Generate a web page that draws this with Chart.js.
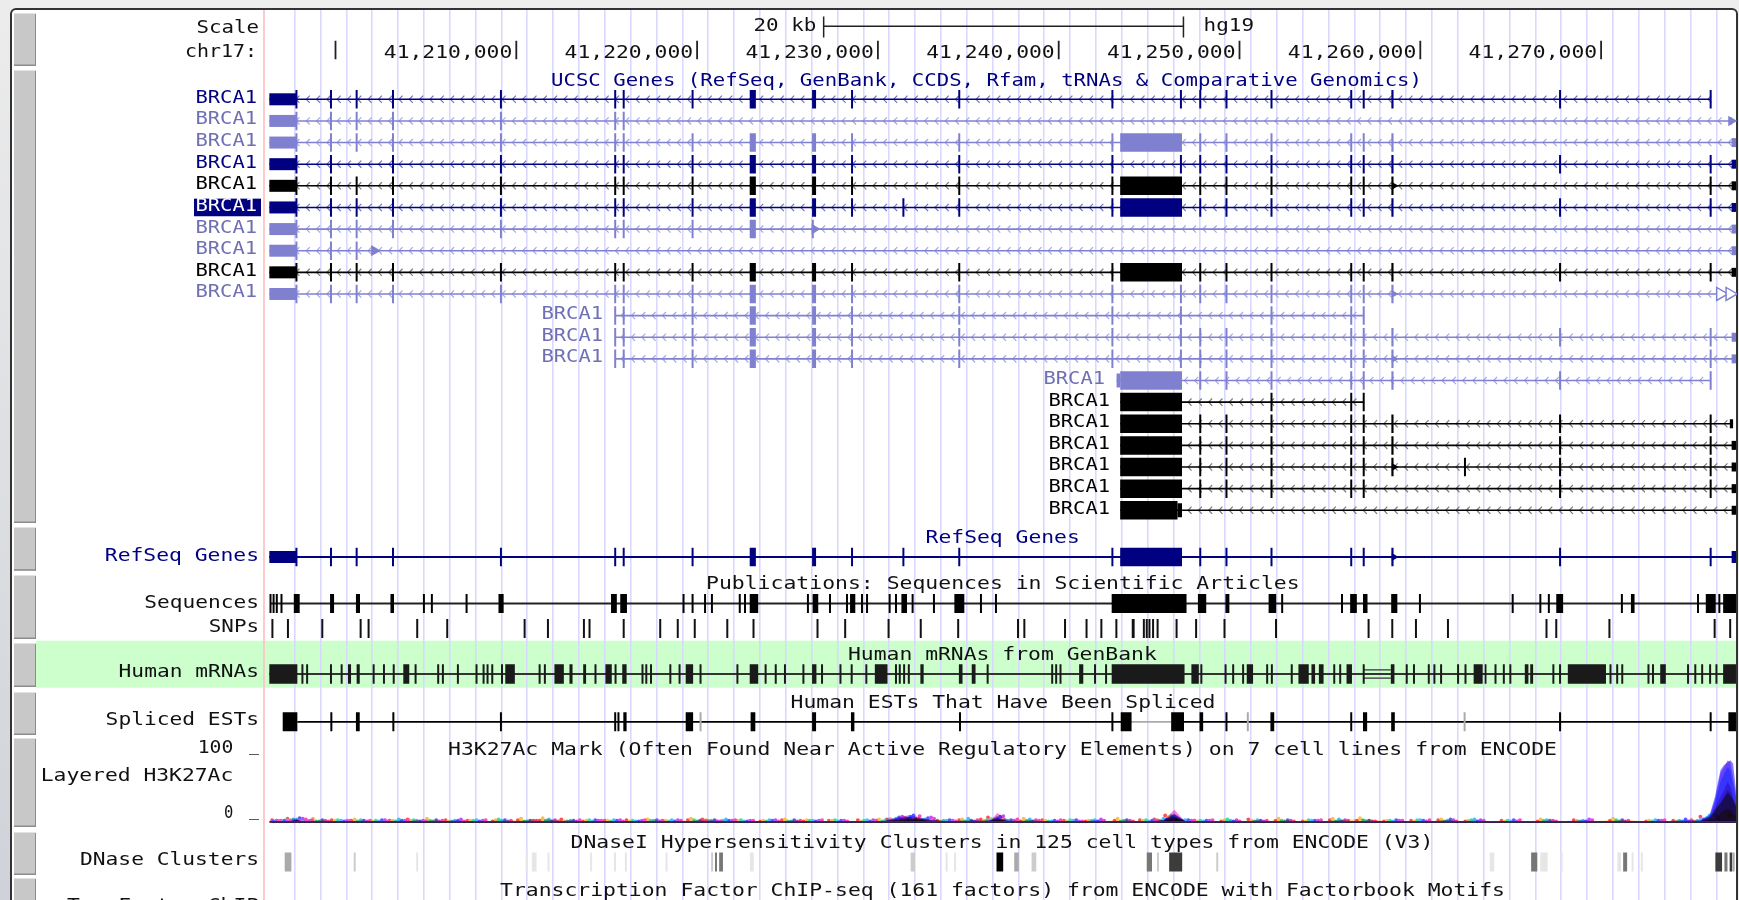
<!DOCTYPE html>
<html><head><meta charset="utf-8">
<style>html,body{margin:0;padding:0;background:#eee;overflow:hidden}canvas{display:block;filter:blur(0.45px)}</style>
<script src="https://cdn.jsdelivr.net/npm/chart.js@4"></script>
</head><body><canvas id="c" width="1739" height="900"></canvas>
<script>
// All x values: kb offset from chr17:41,200,000
const rulerTicks=[0,10,20,30,40,50,60,70];
const rulerLabels=['','41,210,000','41,220,000','41,230,000','41,240,000','41,250,000','41,260,000','41,270,000'];
const scaleBar=[27.0,46.9];
const leftT=[-2.16,-0.25,1.17,3.18,9.15];
const midT=[15.47,15.94,19.75,[22.91,23.25],[26.36,26.58],28.57,34.50,42.97];
const codingBlock=[[43.40,46.82]];
const rightT=[47.83,49.28,51.77,56.18,56.87,[58.40,58.52]];
const lateT=[67.73,76.06];
const leftUtr=[[-3.66,-2.16]];
const endUtr=[[77.22,77.46]];

const geneNames=['BRCA1','BRCA1','BRCA1','BRCA1','BRCA1','BRCA1','BRCA1','BRCA1','BRCA1','BRCA1','BRCA1','BRCA1','BRCA1','BRCA1','BRCA1','BRCA1','BRCA1','BRCA1','BRCA1','BRCA1'];
const geneShade=['n','l','l','n','k','n','l','l','k','l','l','l','l','l','k','k','k','k','k','k'];
const geneStart=[-3.66,-3.66,-3.66,-3.66,-3.66,-3.66,-3.66,-3.66,-3.66,-3.66,15.47,15.47,15.47,43.2,43.4,43.4,43.4,43.4,43.4,43.4];
const geneEnd=[76.06,77.3,77.46,77.46,77.46,77.46,77.46,77.46,77.46,77.2,56.87,77.46,77.46,76.06,56.87,77.3,77.46,77.46,77.46,77.46];
const geneExons=[
 [...leftT,...midT,46.76,...rightT,...lateT],
 [...leftT,15.47,15.94],
 [...leftT,...midT,...codingBlock,...rightT],
 [-2.16,-0.25,3.18,9.15,...midT,46.76,...rightT,...lateT],
 [...leftT,...midT,...codingBlock,...rightT,76.06],
 [...leftT,...midT,31.41,...codingBlock,...rightT,...lateT],
 [...leftT,15.47,15.94,19.75,[22.91,23.25],26.4],
 [-2.16,-0.25,1.17],
 [...leftT,...midT,...codingBlock,...rightT,...lateT],
 [...leftT,...midT,46.76,...rightT],
 [...midT,46.76,51.77,56.18,56.87],
 [...midT,46.76,...rightT,...lateT],
 [...midT,46.76,...rightT,76.06],
 [...codingBlock,...rightT,...lateT],
 [...codingBlock,51.77,56.18,56.87],
 [...codingBlock,...rightT,...lateT],
 [...codingBlock,...rightT,...lateT],
 [...codingBlock,...rightT,62.47,...lateT],
 [...codingBlock,47.83,49.28,51.77,56.18,56.87,...lateT],
 [[43.40,46.57]]
];
const geneUtrLeft=[leftUtr,leftUtr,leftUtr,leftUtr,leftUtr,leftUtr,leftUtr,leftUtr,leftUtr,leftUtr,[],[],[],[[43.2,43.4]],[],[],[],[],[],[[46.57,46.82]]];
const geneUtrEnd=[[],[],endUtr,endUtr,endUtr,endUtr,endUtr,endUtr,endUtr,[],[],endUtr,endUtr,[],[],[[77.12,77.3]],endUtr,endUtr,endUtr,endUtr];
const refSeqExons=[...leftT,...midT,31.41,...codingBlock,...rightT,...lateT];
const geneArrows=[[1,77.2,6],[6,26.5,6],[7,2.15,6.5],[4,58.55,4.5],[9,58.55,4.5],[12,58.55,4.5],[17,58.55,4.5]];
const geneOpenArrows=[[9,76.6,7.5],[9,77.12,7.5]];

const seqMarks=[-3.595,-3.424,-3.247,-2.987,[-2.306,-1.98],[-0.30,-0.08],[1.13,1.355],[3.04,3.235],4.89,5.33,7.25,[9.015,9.30],[15.24,15.56],[15.75,16.12],19.25,19.75,20.44,20.82,22.36,22.65,[22.91,23.38],26.13,[26.39,26.70],27.35,28.29,[28.46,28.75],29.12,29.40,30.65,31.00,[31.30,31.61],31.92,33.10,[34.23,34.78],35.70,36.53,[42.93,47.07],[47.70,48.16],[49.22,49.44],[51.61,52.03],52.36,55.67,[56.12,56.49],[56.83,57.08],[58.39,58.73],59.98,65.11,66.64,67.11,[67.52,67.90],71.15,[71.65,71.85],75.36,[75.79,76.34],76.54,[76.75,77.46]];
const snpMarks=[-3.49,-2.63,-0.73,1.39,1.83,4.52,6.18,10.46,11.75,13.74,14.05,15.94,17.96,18.93,19.87,21.67,23.12,26.66,28.19,30.59,32.37,34.44,37.75,38.10,40.35,41.54,42.36,43.19,[44.04,44.2],44.71,44.87,45.02,45.22,45.47,46.52,47.60,49.17,52.02,57.14,58.45,59.76,61.53,66.98,67.52,70.46,76.28,77.14];
const mrnaMarks=[[-3.66,-2.11],-1.83,-1.57,-0.25,0.34,[0.69,0.86],[1.17,1.34],2.11,2.68,3.22,[3.75,4.08],4.43,5.68,5.94,6.77,7.80,8.19,8.41,8.67,9.21,[9.39,9.92],11.29,11.58,[12.11,12.63],[12.94,13.11],[13.70,13.86],14.38,[14.93,15.28],15.49,[15.86,16.10],16.98,17.19,17.45,18.52,19.03,[19.37,19.78],20.19,22.23,[22.91,23.38],23.79,24.35,24.86,25.88,[26.36,26.60],26.91,27.93,28.55,29.36,[29.83,30.53],31.0,31.21,31.45,31.71,[32.35,32.53],[34.48,34.68],[35.19,35.40],36.07,39.64,39.86,40.10,[41.13,41.36],42.01,42.62,[42.93,46.96],[47.34,47.75],47.89,49.23,49.65,50.20,[50.40,50.75],51.53,51.79,52.89,[53.26,53.83],[53.98,54.18],[54.39,54.65],55.24,55.57,[55.92,56.22],56.87,[58.37,58.57],59.25,59.65,60.47,60.78,61.15,62.09,62.50,[62.95,63.45],[63.56,63.66],64.16,64.62,64.98,[65.78,65.98],[66.08,66.24],67.36,67.73,[68.16,70.27],70.52,70.89,71.17,72.62,72.87,[73.27,73.58],74.81,75.21,75.59,76.03,76.38,[76.75,77.46]];
const mrnaDouble=[56.87,58.37];
const estMarks=[[-2.92,-2.11],-0.23,[1.13,1.34],3.20,9.15,15.47,15.65,[15.92,16.10],[19.37,19.78],[22.96,23.22],[26.36,26.58],[28.51,28.70],34.54,42.97,[43.43,44.03],[46.22,46.93],[47.79,47.99],49.28,[51.71,51.92],56.18,[56.83,57.06],[58.39,58.59],67.73,76.06,[77.04,77.46]];
const estGrey=[20.19,50.46,62.45];
const estLines=[[-2.11,44.03],[46.93,77.46]];
const estGreyLine=[44.03,46.22];

const dnaseBlack=[[36.56,36.93]];
const dnaseDark=[[46.11,46.83],[76.32,76.69],[77.11,77.25]];
const dnaseMid=[[20.99,21.10],[21.22,21.43],[44.87,45.16],[66.13,66.47],[71.22,71.44],[76.82,76.99]];
const dnaseSoft=[[-2.81,-2.44],[37.54,37.79],77.33];
const dnaseLight=[1.06,20.83,[31.81,32.05],[38.50,38.76],45.49,48.77];
const dnasePale=[4.52,10.57,[10.86,11.12],11.78,14.14,15.46,16.06,18.31,[22.92,23.13],33.80,34.27,[63.84,64.09],[66.64,67.04],67.82,[70.90,71.10],71.74,72.25];

const h3kPos=[-3.6,-3.0,-2.5,-2.15,-1.8,-0.9,0.3,1.4,2.4,3.5,4.5,5.4,6.6,7.8,9.2,10.6,11.8,13.0,14.2,15.4,16.6,17.6,18.6,20.0,20.8,21.6,22.6,24.0,25.2,26.4,27.8,29.4,30.4,31.0,31.8,32.6,33.8,35.0,36.2,36.6,37.2,38.4,39.6,40.8,42.0,43.6,45.0,45.8,46.4,47.0,48.0,49.5,51.0,52.5,54.0,55.5,57.0,58.5,60.0,61.5,63.0,65.0,67.0,69.0,71.0,73.0,74.5,75.5,76.0,76.3,76.6,76.8,77.0,77.15,77.3,77.46];
const h3kGM12878=[1,3,2,5,1,2,3,2,1,2,4,1,3,2,1,3,2,4,1,2,3,1,2,3,4,1,2,1,3,1,2,3,2,4,6,5,2,3,4,7,2,1,3,2,1,2,3,4,10,3,2,1,4,2,1,3,2,1,2,3,1,2,1,3,2,1,2,3,8,20,30,38,45,42,35,25];
const h3kH1=[2,1,1,3,2,5,2,4,1,2,2,5,1,2,3,5,6,1,2,2,1,4,2,5,3,1,2,2,4,3,2,1,4,5,7,4,1,4,2,5,3,5,2,1,2,5,2,3,7,2,1,3,2,5,1,5,6,2,1,4,2,1,4,2,5,2,1,1,3,8,15,20,22,20,15,10];
const h3kHSMM=[1,2,3,4,1,1,3,1,2,1,3,2,1,2,4,1,2,1,3,1,2,2,1,3,2,2,3,1,1,2,3,2,1,3,5,3,2,1,3,4,3,2,1,3,2,1,3,2,9,2,2,4,1,2,3,1,3,2,3,1,3,2,2,1,3,1,2,2,6,18,30,40,50,45,35,25];
const h3kHUVEC=[2,1,2,4,2,1,2,3,1,4,2,1,2,3,2,1,4,2,1,3,1,2,3,1,2,4,1,3,1,2,1,3,2,5,8,4,2,5,3,6,2,4,1,2,3,2,1,5,12,3,1,2,3,1,2,4,1,1,3,2,4,1,3,2,1,3,1,3,10,30,62,75,85,80,60,40];
const h3kK562=[1,2,3,6,2,3,1,2,3,2,1,3,2,1,3,2,1,2,3,2,1,3,1,2,3,2,1,2,3,1,2,1,3,7,10,6,3,2,2,8,3,1,2,3,1,3,2,4,14,3,2,1,2,3,2,1,2,3,2,4,1,3,2,1,3,2,4,4,12,40,80,88,92,95,90,50];
const h3kNHEK=[2,1,2,5,1,2,2,1,3,2,2,1,4,2,1,2,3,1,2,3,2,1,3,2,1,2,2,3,1,2,2,3,3,8,12,7,2,1,4,9,2,3,1,1,4,2,3,3,13,2,2,3,1,2,2,3,1,2,1,3,3,1,2,4,1,2,1,3,10,35,75,85,95,92,70,40];
const h3kNHLF=[1,2,1,4,3,1,2,2,1,3,1,2,1,3,2,2,1,3,2,1,3,1,2,2,1,3,2,1,2,3,1,2,2,6,9,5,1,3,2,15,4,2,3,1,2,1,2,4,20,2,3,1,2,1,3,2,1,2,3,1,2,3,1,3,2,3,2,2,6,22,40,50,62,55,40,28];
const h3kSeries=[[h3kGM12878,'rgb(255,128,128)','rgb(255,80,80)',-0.51],[h3kH1,'rgb(255,212,128)','rgb(255,190,70)',-0.34],[h3kHSMM,'rgb(120,235,204)','rgb(60,220,180)',-0.17],[h3kHUVEC,'rgb(128,212,255)','rgb(70,190,255)',0],[h3kK562,'rgb(128,128,255)','rgb(90,90,255)',0.17],[h3kNHEK,'rgb(212,128,255)','rgb(190,80,255)',0.34],[h3kNHLF,'rgb(255,128,212)','rgb(255,70,190)',0.51]];
const h3kBaseline=[-3.66,77.46];

// layout: row numbering on the y scale
const pxPerKb=18.08, tickPx0=335.5, rowPx0=99.3, rowPx=21.63;
const AREA={l:264,r:1737,t:10,b:900};
const pxToRow=p=>(p-rowPx0)/rowPx;
const ROW={refseq:21.16,seq:23.31,snp:24.47,mrna:26.57,est:28.78,dnase:35.26};
const SH={n:{c:'#000080',t:'#000080',chev:'#7474b6'},l:{c:'#8080d0',t:'#6f6fb4',chev:'#a8a8e4'},k:{c:'#000000',t:'#000000',chev:'#7c7c7c'}};

function segs(list,row,half=0.055){
  const out=[];
  list.forEach(v=>{const a=Array.isArray(v)?v[0]:v-half,b=Array.isArray(v)?v[1]:v+half;
    out.push({x:a,y:row},{x:b,y:row},{x:NaN,y:NaN});});
  return out;
}
const datasets=[];
function addLine(data,color,width,extra){
  datasets.push(Object.assign({type:'line',data,borderColor:color,backgroundColor:color,borderWidth:width,pointRadius:0,borderCapStyle:'butt',tension:0,fill:false,spanGaps:false,xAxisID:'x',yAxisID:'y',order:-datasets.length},extra||{}));
}
function addPts(data,color,radius,open){
  datasets.push({type:'line',showLine:false,data,borderColor:color,backgroundColor:open?'#fff':color,borderWidth:open?1.5:0,pointStyle:'triangle',pointRotation:90,pointRadius:radius,xAxisID:'x',yAxisID:'y',order:-datasets.length});
}
// ruler + scale bar
const rulerRows=[pxToRow(40.7),pxToRow(59.3)];
const rulerData=[];rulerTicks.forEach(t=>{rulerData.push({x:t,y:rulerRows[0]},{x:t,y:rulerRows[1]},{x:NaN,y:NaN});});
addLine(rulerData,'#222',1.8);
const barRow=pxToRow(26.3),capA=pxToRow(16.5),capB=pxToRow(37.5);
addLine([{x:scaleBar[0],y:barRow},{x:scaleBar[1],y:barRow}],'#222',1.5);
addLine([{x:scaleBar[0],y:capA},{x:scaleBar[0],y:capB},{x:NaN,y:NaN},{x:scaleBar[1],y:capA},{x:scaleBar[1],y:capB}],'#222',1.5);
// genes
geneNames.forEach((n,r)=>{
  const c=SH[geneShade[r]].c;
  addLine([{x:geneStart[r],y:r},{x:geneEnd[r],y:r}],c,1.6);
  addLine(segs(geneUtrLeft[r],r),c,r==19||r==13?14:12);
  addLine(segs(geneUtrEnd[r],r),c,9);
  addLine(segs(geneExons[r],r),c,18.5);
});
geneArrows.forEach(a=>addPts([{x:a[1],y:a[0]}],SH[geneShade[a[0]]].c,a[2]));
geneOpenArrows.forEach(a=>addPts([{x:a[1],y:a[0]}],SH[geneShade[a[0]]].c,a[2],true));
// RefSeq
addLine([{x:-3.66,y:ROW.refseq},{x:77.46,y:ROW.refseq}],'#000080',2);
addLine(segs(leftUtr,ROW.refseq),'#000080',12);
addLine(segs(endUtr,ROW.refseq),'#000080',12);
addLine(segs(refSeqExons,ROW.refseq),'#000080',18.5);
addPts([{x:58.55,y:ROW.refseq}],'#000080',4.5);
// Publications
addLine([{x:-3.6,y:ROW.seq},{x:77.46,y:ROW.seq}],'#222',1.8);
addLine(segs(seqMarks,ROW.seq),'#000',19);
addLine(segs(snpMarks,ROW.snp),'#111',19);
// mRNAs
addLine([{x:-3.66,y:ROW.mrna},{x:77.46,y:ROW.mrna}],'#333',1.8);
addLine([{x:mrnaDouble[0],y:ROW.mrna-0.19},{x:mrnaDouble[1],y:ROW.mrna-0.19},{x:NaN,y:NaN},{x:mrnaDouble[0],y:ROW.mrna+0.19},{x:mrnaDouble[1],y:ROW.mrna+0.19}],'#333',1.3);
addLine(segs(mrnaMarks,ROW.mrna),'#1a1a1a',19.5);
// ESTs
addLine(segs(estLines,ROW.est),'#000',1.7);
addLine(segs([estGreyLine],ROW.est),'#aaa',1.7);
addLine(segs(estGrey,ROW.est),'#aaa',19);
addLine(segs(estMarks,ROW.est),'#000',19);
// H3K27Ac: layered series on their own 0-100 axis
h3kSeries.forEach(s=>{
  const dots=h3kPos.map((p,i)=>({x:p+s[3],y:s[0][i]+1.5})).filter(d=>d.y<13&&d.x>-3.6);
  datasets.push({type:'line',showLine:false,data:dots,pointBackgroundColor:s[2],pointBorderWidth:0,pointRadius:1.9,xAxisID:'x',yAxisID:'h3k',order:-datasets.length});
});
h3kSeries.forEach(s=>{
  datasets.push({type:'line',data:h3kPos.map((p,i)=>({x:p,y:s[0][i]})),borderWidth:0,borderColor:s[1],backgroundColor:s[1],pointRadius:0,tension:0,fill:'origin',xAxisID:'x',yAxisID:'h3k',multiply:true,order:-datasets.length});
});
addLine([{x:h3kBaseline[0],y:1.6},{x:h3kBaseline[1],y:1.6}],'#3a2c58',1.8,{yAxisID:'h3k'});
// DNase
addLine(segs(dnasePale,ROW.dnase),'#e6e6e6',19);
addLine(segs(dnaseLight,ROW.dnase),'#cccccc',19);
addLine(segs(dnaseSoft,ROW.dnase),'#aaaaaa',19);
addLine(segs(dnaseMid,ROW.dnase),'#777777',19);
addLine(segs(dnaseDark,ROW.dnase),'#3c3c3c',19);
addLine(segs(dnaseBlack,ROW.dnase),'#000000',19);

const FONT='17px "DejaVu Sans Mono"';
const NAVY='#000080', INK='#111';
const fixedTexts=[
 ['Scale',196.5,259,29,INK],['chr17:',185,257,53,INK],['20 kb',753.5,816.4,27,INK],['hg19',1203.6,1254,27,INK],
 ['UCSC Genes (RefSeq, GenBank, CCDS, Rfam, tRNAs & Comparative Genomics)',551,1422,82,NAVY],
 ['RefSeq Genes',925.6,1079.8,539,NAVY],['RefSeq Genes',104.8,259,557,NAVY],
 ['Publications: Sequences in Scientific Articles',706,1299.6,584.7,INK],
 ['Sequences',144.3,259,604,INK],['SNPs',208.8,259,627.7,INK],
 ['Human mRNAs from GenBank',847.9,1156.8,655.3,INK],['Human mRNAs',118.6,259,673,INK],
 ['Human ESTs That Have Been Spliced',790.5,1215.4,703.7,INK],['Spliced ESTs',105.6,259,720.3,INK],
 ['100',197.7,233.3,748.7,INK],['_',249,259,747,INK],['Layered H3K27Ac',40.7,233.3,776.3,INK],['0',224,233.3,813.7,INK],['_',249,259,812,INK],
 ['H3K27Ac Mark (Often Found Near Active Regulatory Elements) on 7 cell lines from ENCODE',448,1557,751,INK],
 ['DNaseI Hypersensitivity Clusters in 125 cell types from ENCODE (V3)',570.6,1433.3,843.7,INK],
 ['DNase Clusters',80,259,860.7,INK],
 ['Transcription Factor ChIP-seq (161 factors) from ENCODE with Factorbook Motifs',500,1505,892,INK],
 ['Txn Factor ChIP',67,259,907,INK]
];
function fit(ctx,t,l,r,y,col){
  ctx.save();ctx.font=FONT;ctx.textBaseline='middle';ctx.textAlign='left';ctx.fillStyle=col;
  const sx=(r-l)/ctx.measureText(t).width;
  ctx.translate(l,y);ctx.scale(sx,1);ctx.fillText(t,0,0);ctx.restore();
}
const buttons=[[13,66],[70,523],[527,570.7],[575,639],[643,687],[692,735],[738,827],[832,875],[878,905]];

const page={id:'page',
 beforeDraw(ch){const c=ch.ctx;
  c.save();
  c.fillStyle='#eeeeee';c.fillRect(0,0,1739,900);
  const g=c.createLinearGradient(0,0,0,900);g.addColorStop(0,'#ececec');g.addColorStop(1,'#cfd3d9');
  c.fillStyle=g;c.fillRect(0,0,10,900);
  c.beginPath();c.roundRect(11,9,1726,920,5);c.fillStyle='#fff';c.fill();c.lineWidth=2;c.strokeStyle='#333';c.stroke();
  buttons.forEach(b=>{c.fillStyle='#c8c8c8';c.fillRect(14,b[0],22,b[1]-b[0]);
    c.fillStyle='#8c8c8c';c.fillRect(14,b[1]-1.5,22,1.5);c.fillRect(35,b[0],1,b[1]-b[0]);
    c.fillStyle='#e2e2e2';c.fillRect(14,b[0],22,1);});
  c.fillStyle='#ccffcc';c.fillRect(36,640.7,1700,47);
  c.restore();},
 beforeDatasetsDraw(ch){const c=ch.ctx,x=ch.scales.x,y=ch.scales.y;
  c.save();
  c.strokeStyle='#ffc4c4';c.lineWidth=1.8;c.beginPath();c.moveTo(AREA.l,AREA.t);c.lineTo(AREA.l,900);c.stroke();
  c.lineWidth=1.2;
  geneNames.forEach((n,r)=>{
    c.strokeStyle=SH[geneShade[r]].chev;c.beginPath();
    const py=y.getPixelForValue(r);
    for(let k=geneStart[r]+0.35;k<geneEnd[r]-0.1;k+=0.57){
      const px=x.getPixelForValue(k);
      c.moveTo(px+3.2,py-3.6);c.lineTo(px-0.3,py);c.lineTo(px+3.2,py+3.6);
    }
    c.stroke();
  });
  c.restore();},
 afterDatasetDraw(ch,a){const next=ch.data.datasets[a.index+1];
  ch.ctx.globalCompositeOperation=(next&&next.multiply)?'multiply':'source-over';},
 afterDatasetsDraw(ch){const c=ch.ctx,x=ch.scales.x,y=ch.scales.y;
  c.globalCompositeOperation='source-over';
  fixedTexts.forEach(t=>fit(c,t[0],t[1],t[2],t[3],t[4]));
  rulerLabels.forEach((s,i)=>{if(!s)return;const p=x.getPixelForValue(rulerTicks[i]);fit(c,s,p-132.5,p-4,53.5,INK);});
  geneNames.forEach((n,r)=>{
    const py=y.getPixelForValue(r);
    const right=r<10?257:r<13?603:r==13?1105:1110;
    let col=SH[geneShade[r]].t;
    if(r==5){c.fillStyle='#000080';c.fillRect(194,py-8.8,67,17.6);col='#fff';}
    fit(c,n,right-61.5,right,py-1,col);
  });
 }
};
const xMin=(AREA.l-tickPx0)/pxPerKb,xMax=(AREA.r-tickPx0)/pxPerKb;
const h3kPx=0.66,h3kZero=823;
new Chart(document.getElementById('c'),{
 data:{datasets},
 plugins:[page],
 options:{responsive:false,animation:false,devicePixelRatio:1,
  layout:{autoPadding:false,padding:{left:AREA.l,right:1739-AREA.r,top:AREA.t,bottom:0}},
  plugins:{legend:{display:false},tooltip:{enabled:false}},
  events:[],
  scales:{
   x:{type:'linear',min:xMin,max:xMax,position:'bottom',
      afterBuildTicks(s){const t=[];for(let v=-2.26;v<=xMax;v+=1.4297)t.push({value:v});s.ticks=t;},
      ticks:{display:false,autoSkip:false},border:{display:false},
      grid:{color:'#d9d9ff',lineWidth:1.6,drawTicks:false}},
   y:{type:'linear',reverse:true,display:false,min:pxToRow(AREA.t),max:pxToRow(AREA.b)},
   h3k:{type:'linear',display:false,min:(h3kZero-AREA.b)/h3kPx,max:(h3kZero-AREA.t)/h3kPx}
  }
 }
});
</script></body></html>
